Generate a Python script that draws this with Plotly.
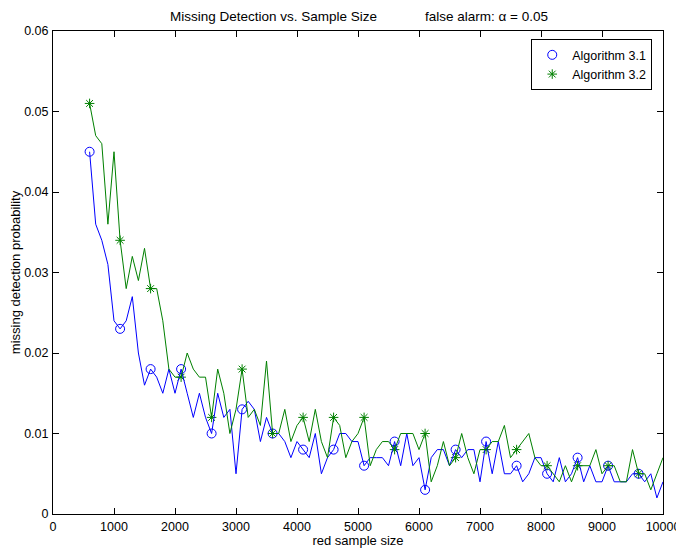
import plotly.graph_objects as go

# sample sizes (100 steps from 600 to 10000)
sample_size = list(range(600, 10001, 100))

# Algorithm 3.1 missing detection probability (in units of 1e-3)
alg31_milli = [45, 36, 34, 31, 24, 23, 24, 27, 20, 16,
               18, 17, 15, 18, 15, 18, 15, 12, 15, 12,
               10, 15, 12, 13, 5, 13, 14, 13, 9, 12,
               10, 10, 9, 7, 9, 8, 7, 10, 5, 7,
               8, 10, 10, 9, 9, 6, 7, 7, 7, 6,
               9, 6, 10, 6, 7, 3, 7, 8, 8, 6,
               8, 7, 8, 8, 4, 9, 5, 9, 5, 5,
               6, 4, 5, 7, 7, 5, 4, 7, 4, 5,
               7, 4, 6, 4, 4, 6, 4, 4, 4, 5,
               5, 4, 5, 2, 4]

# Algorithm 3.2 missing detection probability (in units of 1e-3)
alg32_milli = [51, 47, 46, 36, 45, 34, 28, 32, 29, 33,
               28, 28, 24, 18, 17, 17, 20, 18, 17, 17,
               12, 18, 15, 10, 13, 18, 12, 13, 11, 19,
               10, 10, 13, 9, 11, 12, 9, 13, 9, 7,
               12, 11, 7, 9, 10, 12, 6, 8, 9, 9,
               8, 10, 10, 10, 8, 10, 4, 6, 9, 6,
               7, 10, 7, 5, 8, 8, 9, 9, 11, 7,
               8, 9, 10, 7, 6, 6, 5, 4, 6, 4,
               6, 6, 6, 8, 5, 6, 6, 4, 4, 8,
               5, 5, 3, 5, 7]

alg31 = [v / 1000 for v in alg31_milli]
alg32 = [v / 1000 for v in alg32_milli]

marker_step = 5  # markers every 500 samples

x_tick_vals = list(range(0, 10001, 1000))
x_tick_text = [str(v) for v in x_tick_vals]
y_tick_vals = [0, 0.01, 0.02, 0.03, 0.04, 0.05, 0.06]
y_tick_text = ["0", "0.01", "0.02", "0.03", "0.04", "0.05", "0.06"]

BLUE = "rgb(0,0,255)"
GREEN = "rgb(0,128,0)"
FONT = "Liberation Sans, Arial, sans-serif"

fig = go.Figure()

# marker traces (in legend)
fig.add_trace(go.Scatter(
    x=sample_size[::marker_step], y=alg31[::marker_step], mode="markers",
    name="Algorithm 3.1",
    marker=dict(symbol="circle-open", size=9, color=BLUE, line=dict(color=BLUE, width=1)),
))
fig.add_trace(go.Scatter(
    x=sample_size[::marker_step], y=alg32[::marker_step], mode="markers",
    name="Algorithm 3.2",
    marker=dict(symbol="asterisk-open", size=8, color=GREEN, line=dict(color=GREEN, width=1)),
))
# line traces
fig.add_trace(go.Scatter(
    x=sample_size, y=alg31, mode="lines", showlegend=False,
    line=dict(color=BLUE, width=1),
))
fig.add_trace(go.Scatter(
    x=sample_size, y=alg32, mode="lines", showlegend=False,
    line=dict(color=GREEN, width=1),
))

axis_common = dict(
    showline=True, linecolor="black", linewidth=1, mirror="ticks",
    ticks="inside", ticklen=6, tickcolor="black", tickwidth=1,
    showgrid=False, zeroline=False, automargin=False,
    tickfont=dict(family=FONT, size=12.5, color="black"),
)

# the page body has an 8px margin, so the figure is sized/margined to land
# the plot frame at the reference position in the 684x548 window
fig.update_layout(
    width=676, height=540,
    paper_bgcolor="white", plot_bgcolor="white",
    margin=dict(l=45, r=21, t=23, b=34),
    font=dict(family=FONT, size=13, color="black"),
    xaxis=dict(range=[0, 10000], tickvals=x_tick_vals, ticktext=x_tick_text,
               title=dict(text="red sample size", font=dict(family=FONT, size=13), standoff=4),
               ticklabelstandoff=1,
               **axis_common),
    yaxis=dict(range=[0, 0.06], tickvals=y_tick_vals, ticktext=y_tick_text,
               title=dict(text="missing detection probability", font=dict(family=FONT, size=13), standoff=8),
               ticklabelstandoff=1,
               **axis_common),
    legend=dict(x=0.784, y=0.983, xanchor="left", yanchor="top",
                bgcolor="white", bordercolor="black", borderwidth=1,
                font=dict(family=FONT, size=12.5), itemwidth=30,
                tracegroupgap=0),
    showlegend=True,
    annotations=[
        dict(text="Missing Detection vs. Sample Size", xref="paper", yref="paper",
             x=0.189, y=1.01, xanchor="left", yanchor="bottom", showarrow=False,
             font=dict(family=FONT, size=13.5)),
        dict(text="false alarm: α = 0.05", xref="paper", yref="paper",
             x=0.607, y=1.01, xanchor="left", yanchor="bottom", showarrow=False,
             font=dict(family=FONT, size=13.5)),
    ],
)

fig.write_html("out.html")
